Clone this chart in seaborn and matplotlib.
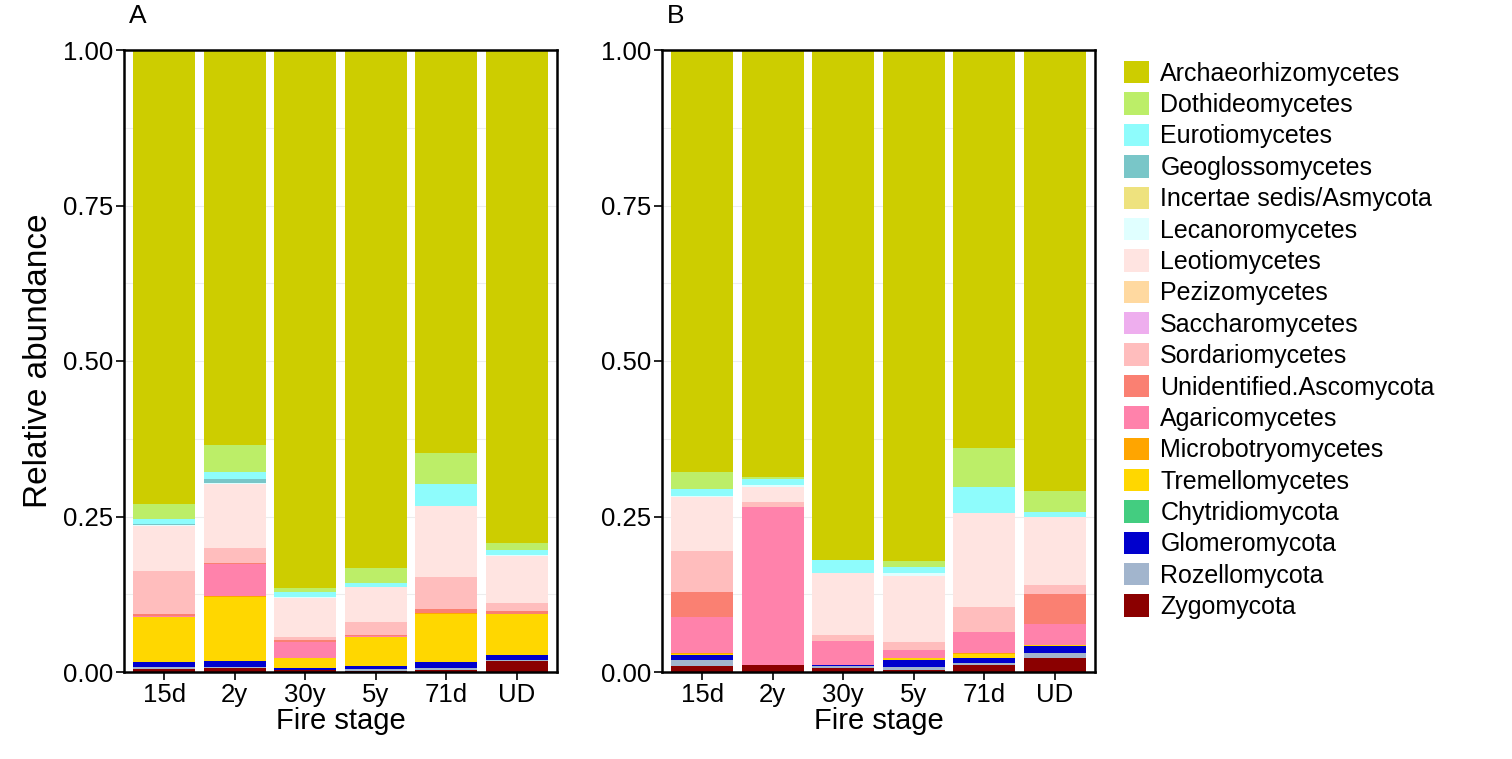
import matplotlib
matplotlib.use("Agg")
import matplotlib.pyplot as plt
from matplotlib.patches import Patch
from matplotlib.ticker import MultipleLocator
import pandas as pd
import seaborn as sns

# Fire stages on the x axis
stages = ["15d", "2y", "30y", "5y", "71d", "UD"]

# Fungal classes, listed from the top of each stack to the bottom
classes = [
    "Archaeorhizomycetes", "Dothideomycetes", "Eurotiomycetes", "Geoglossomycetes",
    "Incertae sedis/Asmycota", "Lecanoromycetes", "Leotiomycetes", "Pezizomycetes",
    "Saccharomycetes", "Sordariomycetes", "Unidentified.Ascomycota", "Agaricomycetes",
    "Microbotryomycetes", "Tremellomycetes", "Chytridiomycota", "Glomeromycota",
    "Rozellomycota", "Zygomycota",
]
class_colors = [
    "#CDCD00", "#BCEE68", "#8EFCFC", "#79C6C8", "#EEE27E", "#E0FFFF", "#FFE4E1",
    "#FFD9A0", "#EEAEEE", "#FFBDBD", "#FA8072", "#FF82AB", "#FFA500", "#FFD700",
    "#43CD80", "#0000CD", "#A2B5CD", "#8B0000",
]

# Relative abundance per stage, same order as `classes` (panel A)
a_15d = [0.730, 0.024, 0.008, 0.001, 0.000, 0.002, 0.072, 0.001, 0.000, 0.068,
         0.004, 0.002, 0.000, 0.072, 0.000, 0.008, 0.003, 0.005]
a_2y = [0.635, 0.043, 0.012, 0.006, 0.000, 0.001, 0.104, 0.000, 0.000, 0.023,
        0.002, 0.052, 0.001, 0.103, 0.000, 0.010, 0.002, 0.006]
a_30y = [0.865, 0.006, 0.009, 0.000, 0.000, 0.001, 0.062, 0.000, 0.000, 0.006,
         0.003, 0.026, 0.000, 0.016, 0.000, 0.002, 0.001, 0.003]
a_5y = [0.832, 0.025, 0.006, 0.000, 0.000, 0.000, 0.056, 0.000, 0.000, 0.021,
        0.002, 0.001, 0.001, 0.046, 0.000, 0.005, 0.003, 0.002]
a_71d = [0.648, 0.050, 0.035, 0.000, 0.000, 0.000, 0.114, 0.000, 0.000, 0.052,
         0.006, 0.000, 0.001, 0.078, 0.000, 0.010, 0.002, 0.004]
a_ud = [0.793, 0.011, 0.008, 0.000, 0.000, 0.002, 0.075, 0.000, 0.000, 0.013,
        0.004, 0.000, 0.000, 0.067, 0.000, 0.008, 0.002, 0.017]

# Relative abundance per stage, same order as `classes` (panel B)
b_15d = [0.679, 0.027, 0.011, 0.000, 0.000, 0.002, 0.086, 0.000, 0.000, 0.067,
         0.040, 0.058, 0.001, 0.002, 0.000, 0.008, 0.009, 0.010]
b_2y = [0.686, 0.004, 0.010, 0.000, 0.000, 0.002, 0.024, 0.000, 0.000, 0.009,
        0.000, 0.253, 0.000, 0.000, 0.000, 0.000, 0.001, 0.011]
b_30y = [0.820, 0.000, 0.021, 0.000, 0.000, 0.000, 0.099, 0.000, 0.000, 0.010,
         0.000, 0.039, 0.000, 0.000, 0.000, 0.002, 0.002, 0.007]
b_5y = [0.822, 0.009, 0.010, 0.000, 0.000, 0.005, 0.106, 0.000, 0.000, 0.013,
        0.000, 0.012, 0.001, 0.002, 0.000, 0.012, 0.004, 0.004]
b_71d = [0.640, 0.062, 0.042, 0.000, 0.000, 0.000, 0.151, 0.000, 0.000, 0.041,
         0.000, 0.034, 0.001, 0.007, 0.000, 0.008, 0.002, 0.012]
b_ud = [0.709, 0.033, 0.009, 0.000, 0.000, 0.000, 0.109, 0.000, 0.000, 0.015,
        0.048, 0.034, 0.000, 0.002, 0.000, 0.011, 0.007, 0.023]

panel_a = [a_15d, a_2y, a_30y, a_5y, a_71d, a_ud]
panel_b = [b_15d, b_2y, b_30y, b_5y, b_71d, b_ud]

sns.set_theme(style="white")
plt.rcParams["font.family"] = ["Liberation Sans", "DejaVu Sans"]
plt.rcParams["text.color"] = "black"
plt.rcParams["axes.labelcolor"] = "black"

TICK_FS = 18.5
TITLE_FS = 21
YTITLE_FS = 24

fig = plt.figure(figsize=(15.12, 7.59), dpi=100)
ax_a = fig.add_axes([124 / 1512, 1 - 672 / 759, (557 - 124) / 1512, (672 - 50) / 759])
ax_b = fig.add_axes([662 / 1512, 1 - 672 / 759, (1095 - 662) / 1512, (672 - 50) / 759])


def draw_panel(ax, rows, letter):
    df = pd.DataFrame(rows, index=stages, columns=classes)
    # cumulative height of each class counted from the bottom of the stack
    tops = df[classes[::-1]].cumsum(axis=1)
    ax.set_axisbelow(True)
    ax.yaxis.set_minor_locator(MultipleLocator(0.125))
    ax.grid(True, axis="y", which="both", color="#EDEDED", linewidth=0.8)
    for cls, col in zip(classes, class_colors):
        sns.barplot(x=stages, y=tops[cls].values, order=stages, color=col,
                    saturation=1, width=0.88, linewidth=0, edgecolor="none", ax=ax)
    ax.set_xlim(-0.57, 5.57)
    ax.set_ylim(0, 1.0)
    ax.set_yticks([0, 0.25, 0.5, 0.75, 1.0])
    ax.set_yticklabels(["0.00", "0.25", "0.50", "0.75", "1.00"])
    ax.tick_params(axis="both", which="major", direction="out", length=6, width=1.2,
                   color="black", labelsize=TICK_FS, labelcolor="black", pad=2,
                   left=True, bottom=True)
    ax.tick_params(axis="y", which="minor", left=False)
    for sp in ax.spines.values():
        sp.set_visible(True)
        sp.set_color("black")
        sp.set_linewidth(1.8)
    ax.set_xlabel("Fire stage", fontsize=TITLE_FS, labelpad=0)
    ax.set_ylabel("")
    ax.text(0.012, 1.035, letter, transform=ax.transAxes, fontsize=19,
            ha="left", va="bottom")


draw_panel(ax_a, panel_a, "A")
draw_panel(ax_b, panel_b, "B")
ax_a.set_ylabel("Relative abundance", fontsize=YTITLE_FS, labelpad=6)

handles = [Patch(facecolor=c, edgecolor="none") for c in class_colors]
fig.legend(handles, classes, loc="upper left",
           bbox_to_anchor=(1124 / 1512, 1 - 61 / 759), frameon=False,
           fontsize=18, handlelength=1.0, handleheight=1.0,
           handletextpad=0.45, labelspacing=0.265, borderpad=0, borderaxespad=0)

fig.savefig("out.png", dpi=100, facecolor="white")
